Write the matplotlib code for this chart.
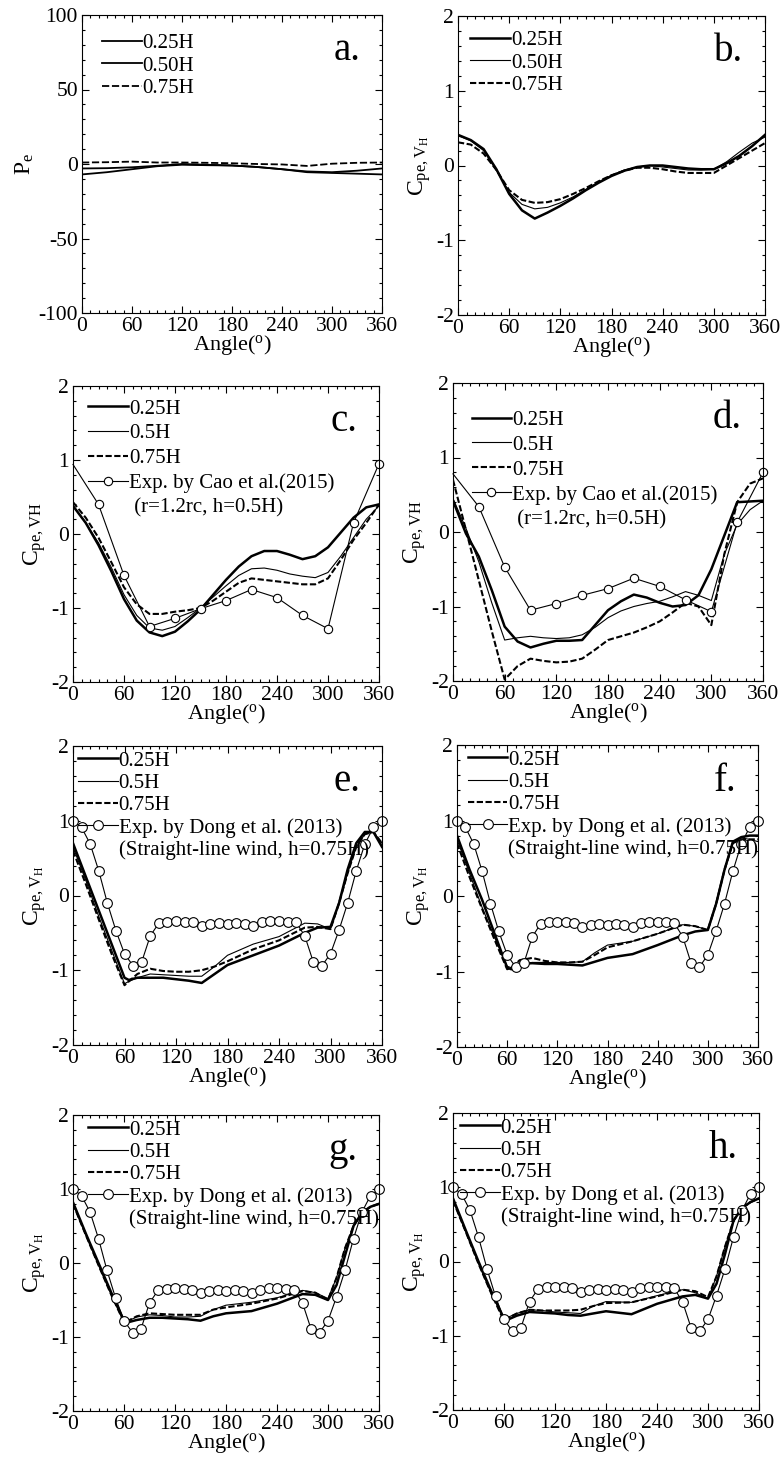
import numpy as np
import matplotlib
matplotlib.use("Agg")
import matplotlib.pyplot as plt
from matplotlib.lines import Line2D
from matplotlib.ticker import MultipleLocator

plt.rcParams['font.family'] = ['Liberation Serif', 'DejaVu Serif']
plt.rcParams['mathtext.fontset'] = 'custom'
plt.rcParams['mathtext.rm'] = 'Liberation Serif'
plt.rcParams['mathtext.it'] = 'Liberation Serif:italic'
plt.rcParams['axes.unicode_minus'] = False

# ---- data ----
# panel a (pressure)
ang_a = [0, 30, 60, 90, 120, 150, 180, 210, 240, 270, 300, 330, 360]
a_025 = [-7, -5.5, -3.5, -1.5, -0.5, -0.8, -1, -2, -3.5, -5.5, -6, -6.5, -7]
a_050 = [-3, -2.8, -2.2, -1.2, 0, -0.5, -1, -2, -3.5, -5, -5.5, -4.5, -3]
a_075 = [1, 1.2, 1.6, 1, 1, 0.8, 0.5, 0, -0.3, -1.3, 0.2, 0.8, 1]

# panels b, c, d
ang_bcd = [0, 15, 30, 45, 60, 75, 90, 105, 120, 135, 150, 165, 180,
           195, 210, 225, 240, 255, 270, 285, 300, 315, 330, 345, 360]
b_025 = [0.41, 0.34, 0.22, -0.05, -0.38, -0.6, -0.71, -0.63, -0.54, -0.44, -0.33, -0.23, -0.14,
         -0.07, -0.02, 0.0, 0.0, -0.02, -0.04, -0.05, -0.05, 0.03, 0.13, 0.26, 0.41]
b_050 = [0.4, 0.33, 0.2, -0.06, -0.36, -0.52, -0.58, -0.56, -0.5, -0.42, -0.32, -0.22, -0.13,
         -0.06, -0.02, 0.0, -0.02, -0.04, -0.06, -0.06, -0.05, 0.05, 0.18, 0.3, 0.38]
b_075 = [0.31, 0.28, 0.16, -0.06, -0.33, -0.46, -0.5, -0.49, -0.45, -0.38, -0.3, -0.21, -0.13,
         -0.07, -0.03, -0.03, -0.05, -0.08, -0.1, -0.1, -0.1, 0.0, 0.1, 0.2, 0.3]

c_025 = [0.38, 0.15, -0.15, -0.5, -0.88, -1.17, -1.33, -1.38, -1.32, -1.18, -1.02, -0.82, -0.62,
         -0.44, -0.3, -0.23, -0.23, -0.28, -0.34, -0.3, -0.18, 0.02, 0.22, 0.36, 0.4]
c_050 = [0.38, 0.15, -0.12, -0.45, -0.82, -1.1, -1.27, -1.3, -1.25, -1.13, -1.0, -0.85, -0.7,
         -0.56, -0.47, -0.46, -0.49, -0.54, -0.57, -0.59, -0.52, -0.3, -0.05, 0.2, 0.38]
c_075 = [0.43, 0.22, -0.05, -0.38, -0.72, -0.95, -1.08, -1.08, -1.05, -1.03, -1.0, -0.9, -0.78,
         -0.66, -0.6, -0.62, -0.64, -0.66, -0.68, -0.68, -0.6, -0.35, -0.08, 0.15, 0.4]

d_025 = [0.42, -0.02, -0.33, -0.78, -1.27, -1.47, -1.55, -1.5, -1.46, -1.46, -1.45, -1.25, -1.05,
         -0.93, -0.84, -0.88, -0.95, -1.0, -0.98, -0.85, -0.5, -0.05, 0.4, 0.41, 0.42]
d_050 = [0.45, 0.05, -0.4, -0.95, -1.45, -1.42, -1.4, -1.42, -1.43, -1.42, -1.38, -1.28, -1.15,
         -1.06, -1.0, -0.96, -0.93, -0.87, -0.8, -0.85, -0.92, -0.3, 0.1, 0.3, 0.42]
d_075 = [0.7, 0.03, -0.65, -1.33, -1.98, -1.8, -1.7, -1.73, -1.75, -1.74, -1.7, -1.58, -1.45,
         -1.4, -1.35, -1.28, -1.2, -1.08, -0.95, -1.0, -1.25, -0.3, 0.4, 0.65, 0.72]

# Cao et al. (2015) experiment
ang_cao = [0, 30, 60, 90, 120, 150, 180, 210, 240, 270, 300, 330, 360]
cao_c = [0.94, 0.40, -0.56, -1.25, -1.14, -1.01, -0.9, -0.75, -0.86, -1.1, -1.28, 0.15, 0.95]
cao_d = [0.78, 0.34, -0.47, -1.05, -0.96, -0.85, -0.76, -0.62, -0.73, -0.91, -1.07, 0.13, 0.8]

# panels e-h
ang_efgh = [0, 15, 30, 45, 60, 65, 75, 90, 105, 120, 135, 150, 165, 180,
            210, 240, 270, 285, 300, 310, 320, 330, 340, 350, 360]
e_025 = [0.7, 0.25, -0.2, -0.65, -1.1, -1.13, -1.1, -1.1, -1.1, -1.12, -1.14, -1.17, -1.05, -0.93,
         -0.8, -0.67, -0.5, -0.43, -0.42, -0.1, 0.35, 0.7, 0.85, 0.85, 0.65]
e_050 = [0.65, 0.2, -0.28, -0.73, -1.18, -1.15, -1.1, -1.05, -1.06, -1.07, -1.08, -1.08, -0.95, -0.8,
         -0.65, -0.55, -0.37, -0.38, -0.45, -0.1, 0.3, 0.65, 0.82, 0.85, 0.7]
e_075 = [0.6, 0.15, -0.32, -0.78, -1.2, -1.15, -1.05, -0.98, -1.01, -1.02, -1.02, -1.0, -0.95, -0.88,
         -0.72, -0.6, -0.43, -0.42, -0.45, -0.1, 0.3, 0.65, 0.82, 0.85, 0.7]

f_025 = [0.8, 0.35, -0.05, -0.5, -0.95, -0.97, -0.9, -0.89, -0.9, -0.9, -0.91, -0.92, -0.87, -0.82,
         -0.77, -0.65, -0.52, -0.47, -0.45, -0.1, 0.35, 0.72, 0.78, 0.8, 0.8]
f_050 = [0.75, 0.3, -0.15, -0.55, -0.93, -0.95, -0.9, -0.88, -0.88, -0.88, -0.88, -0.87, -0.75, -0.65,
         -0.6, -0.5, -0.38, -0.4, -0.45, -0.1, 0.35, 0.7, 0.77, 0.75, 0.72]
f_075 = [0.7, 0.25, -0.17, -0.58, -0.97, -0.95, -0.85, -0.82, -0.86, -0.88, -0.88, -0.87, -0.78, -0.68,
         -0.6, -0.5, -0.38, -0.4, -0.45, -0.1, 0.35, 0.7, 0.75, 0.75, 0.75]

g_025 = [0.82, 0.4, 0.0, -0.4, -0.78, -0.8, -0.77, -0.74, -0.74, -0.75, -0.76, -0.78, -0.72, -0.68,
         -0.65, -0.55, -0.42, -0.43, -0.5, -0.3, 0.1, 0.5, 0.68, 0.76, 0.8]
g_050 = [0.8, 0.38, -0.03, -0.43, -0.8, -0.78, -0.73, -0.7, -0.71, -0.73, -0.73, -0.72, -0.63, -0.57,
         -0.53, -0.47, -0.37, -0.4, -0.48, -0.2, 0.2, 0.5, 0.68, 0.76, 0.8]
g_075 = [0.8, 0.38, -0.03, -0.43, -0.8, -0.78, -0.72, -0.68, -0.69, -0.7, -0.7, -0.7, -0.63, -0.6,
         -0.55, -0.48, -0.38, -0.4, -0.5, -0.2, 0.2, 0.5, 0.68, 0.76, 0.8]

h_025 = [0.85, 0.42, 0.0, -0.4, -0.77, -0.78, -0.73, -0.68, -0.69, -0.7, -0.72, -0.73, -0.7, -0.67,
         -0.71, -0.57, -0.47, -0.45, -0.5, -0.3, 0.1, 0.55, 0.72, 0.8, 0.85]
h_050 = [0.82, 0.4, -0.03, -0.43, -0.78, -0.75, -0.7, -0.65, -0.66, -0.68, -0.69, -0.7, -0.6, -0.54,
         -0.55, -0.46, -0.38, -0.42, -0.5, -0.2, 0.2, 0.55, 0.72, 0.8, 0.85]
h_075 = [0.82, 0.4, -0.03, -0.43, -0.8, -0.76, -0.7, -0.65, -0.66, -0.66, -0.66, -0.65, -0.6, -0.56,
         -0.55, -0.47, -0.38, -0.4, -0.48, -0.2, 0.2, 0.55, 0.72, 0.8, 0.85]

# Dong et al. (2013) experiment, every 10 deg
ang_dong = list(range(0, 361, 10))
dong = [1.0, 0.91, 0.69, 0.33, -0.1, -0.47, -0.78, -0.94, -0.89, -0.54, -0.37, -0.35, -0.34,
        -0.35, -0.36, -0.41, -0.38, -0.37, -0.38, -0.37, -0.38, -0.41, -0.36, -0.34, -0.34,
        -0.35, -0.36, -0.54, -0.89, -0.94, -0.78, -0.46, -0.1, 0.33, 0.69, 0.91, 1.0]

# ---- figure ----
W, H = 780, 1459
fig = plt.figure(figsize=(W / 100, H / 100), dpi=100)

# axes boxes in pixels: left, top, right, bottom
boxes = {
    'a': (82, 15, 382, 313), 'b': (458, 16, 765, 315),
    'c': (73, 386, 379, 682), 'd': (453, 383, 763, 681),
    'e': (73, 746, 382, 1045), 'f': (457, 745, 758, 1047),
    'g': (73, 1115, 379, 1411), 'h': (453, 1113, 759, 1410),
}

FS = 15.5    # ticks and axis labels
LFS = 15     # legend text
thick = dict(color='black', lw=1.8, ls='-')
thin = dict(color='black', lw=0.8, ls='-')
dash = dict(color='black', lw=1.5, ls=(0, (3, 1.2)))
exp_style = dict(color='black', lw=0.8, marker='o', ms=7, mfc='white', mec='black', mew=0.8)

cpe_vh = r'C$_{\rm pe,V_{\rm H}}$'
cpe_flat = r'C$_{\rm pe,VH}$'


def make_axes(key):
    l, t, r, b = boxes[key]
    ax = fig.add_axes([l / W, 1 - b / H, (r - l) / W, (b - t) / H])
    ax.set_xlim(0, 360)
    ax.xaxis.set_major_locator(MultipleLocator(60))
    ax.xaxis.set_minor_locator(MultipleLocator(10))
    ax.tick_params(which='both', direction='in', top=True, right=True, labelsize=FS, width=0.8)
    ax.tick_params(which='major', length=5, pad=3)
    ax.tick_params(which='minor', length=2.5)
    for s in ax.spines.values():
        s.set_linewidth(0.8)
    ax.set_xlabel(r'Angle($^{\rm o}$)', fontsize=FS + 0.5, labelpad=-2)
    ax.text(0.93, 0.88, key + '.', transform=ax.transAxes, fontsize=28,
            ha='right', va='center')
    return ax


def coef_axes(ax, ylabel):
    ax.set_ylim(-2, 2)
    ax.yaxis.set_major_locator(MultipleLocator(1))
    ax.yaxis.set_minor_locator(MultipleLocator(0.2))
    ax.set_ylabel(ylabel, fontsize=FS + 1.5, labelpad=2)


def add_legend(ax, handles, labels, anchor, spacing):
    ax.legend(handles, labels, loc='upper left', bbox_to_anchor=anchor, frameon=False,
              fontsize=LFS, handlelength=1.9, handletextpad=0.05, labelspacing=spacing,
              borderpad=0, borderaxespad=0, numpoints=1)


# a.
ax = make_axes('a')
ax.plot(ang_a, a_025, color='black', lw=1.3)
ax.plot(ang_a, a_050, color='black', lw=1.3)
ax.plot(ang_a, a_075, color='black', lw=1.3, ls=(0, (4, 1.5)))
ax.set_ylim(-100, 100)
ax.yaxis.set_major_locator(MultipleLocator(50))
ax.yaxis.set_minor_locator(MultipleLocator(10))
ax.set_ylabel(r'P$_{\rm e}$', fontsize=FS + 1.5, labelpad=2)
add_legend(ax, [Line2D([], [], color='black', lw=1.3),
                Line2D([], [], color='black', lw=1.3),
                Line2D([], [], color='black', lw=1.3, ls=(0, (4, 1.5)))],
           ['0.25H', '0.50H', '0.75H'], (0.067, 0.938), 0.15)

# b.
ax = make_axes('b')
ax.plot(ang_bcd, b_025, **thick)
ax.plot(ang_bcd, b_050, **thin)
ax.plot(ang_bcd, b_075, **dash)
coef_axes(ax, cpe_vh)
add_legend(ax, [Line2D([], [], **thick), Line2D([], [], **thin), Line2D([], [], **dash)],
           ['0.25H', '0.50H', '0.75H'], (0.04, 0.952), 0.15)

# c. and d.
legend_pos = {'c': (0.05, 0.956), 'd': (0.06, 0.908)}
for key, s1, s2, s3, cao in [('c', c_025, c_050, c_075, cao_c), ('d', d_025, d_050, d_075, cao_d)]:
    ax = make_axes(key)
    ax.plot(ang_bcd, s1, **thick)
    ax.plot(ang_bcd, s2, **thin)
    ax.plot(ang_bcd, s3, **dash)
    ax.plot(ang_cao, cao, markevery=list(range(1, len(ang_cao))), clip_on=False,
            **dict(exp_style, ms=6))
    coef_axes(ax, cpe_flat)
    add_legend(ax, [Line2D([], [], **thick), Line2D([], [], **thin), Line2D([], [], **dash),
                    Line2D([], [], **dict(exp_style, ms=6)), Line2D([], [], lw=0)],
               ['0.25H', '0.5H', '0.75H', 'Exp. by Cao et al.(2015)', ' (r=1.2rc, h=0.5H)'],
               legend_pos[key], 0.25)

# e. to h.
panels = [('e', e_025, e_050, e_075), ('f', f_025, f_050, f_075),
          ('g', g_025, g_050, g_075), ('h', h_025, h_050, h_075)]
legend_pos = {'e': (0.016, 0.983), 'f': (0.036, 0.983), 'g': (0.05, 0.983), 'h': (0.023, 0.983)}
for key, s1, s2, s3 in panels:
    ax = make_axes(key)
    ax.plot(ang_efgh, s1, **thick)
    ax.plot(ang_efgh, s2, **thin)
    ax.plot(ang_efgh, s3, **dash)
    ax.plot(ang_dong, dong, clip_on=False, **exp_style)
    coef_axes(ax, cpe_vh)
    add_legend(ax, [Line2D([], [], **thick), Line2D([], [], **thin), Line2D([], [], **dash),
                    Line2D([], [], **exp_style), Line2D([], [], lw=0)],
               ['0.25H', '0.5H', '0.75H', 'Exp. by Dong et al. (2013)',
                '(Straight-line wind, h=0.75H)'],
               legend_pos[key], 0.13)

fig.savefig('out.png', dpi=100)
